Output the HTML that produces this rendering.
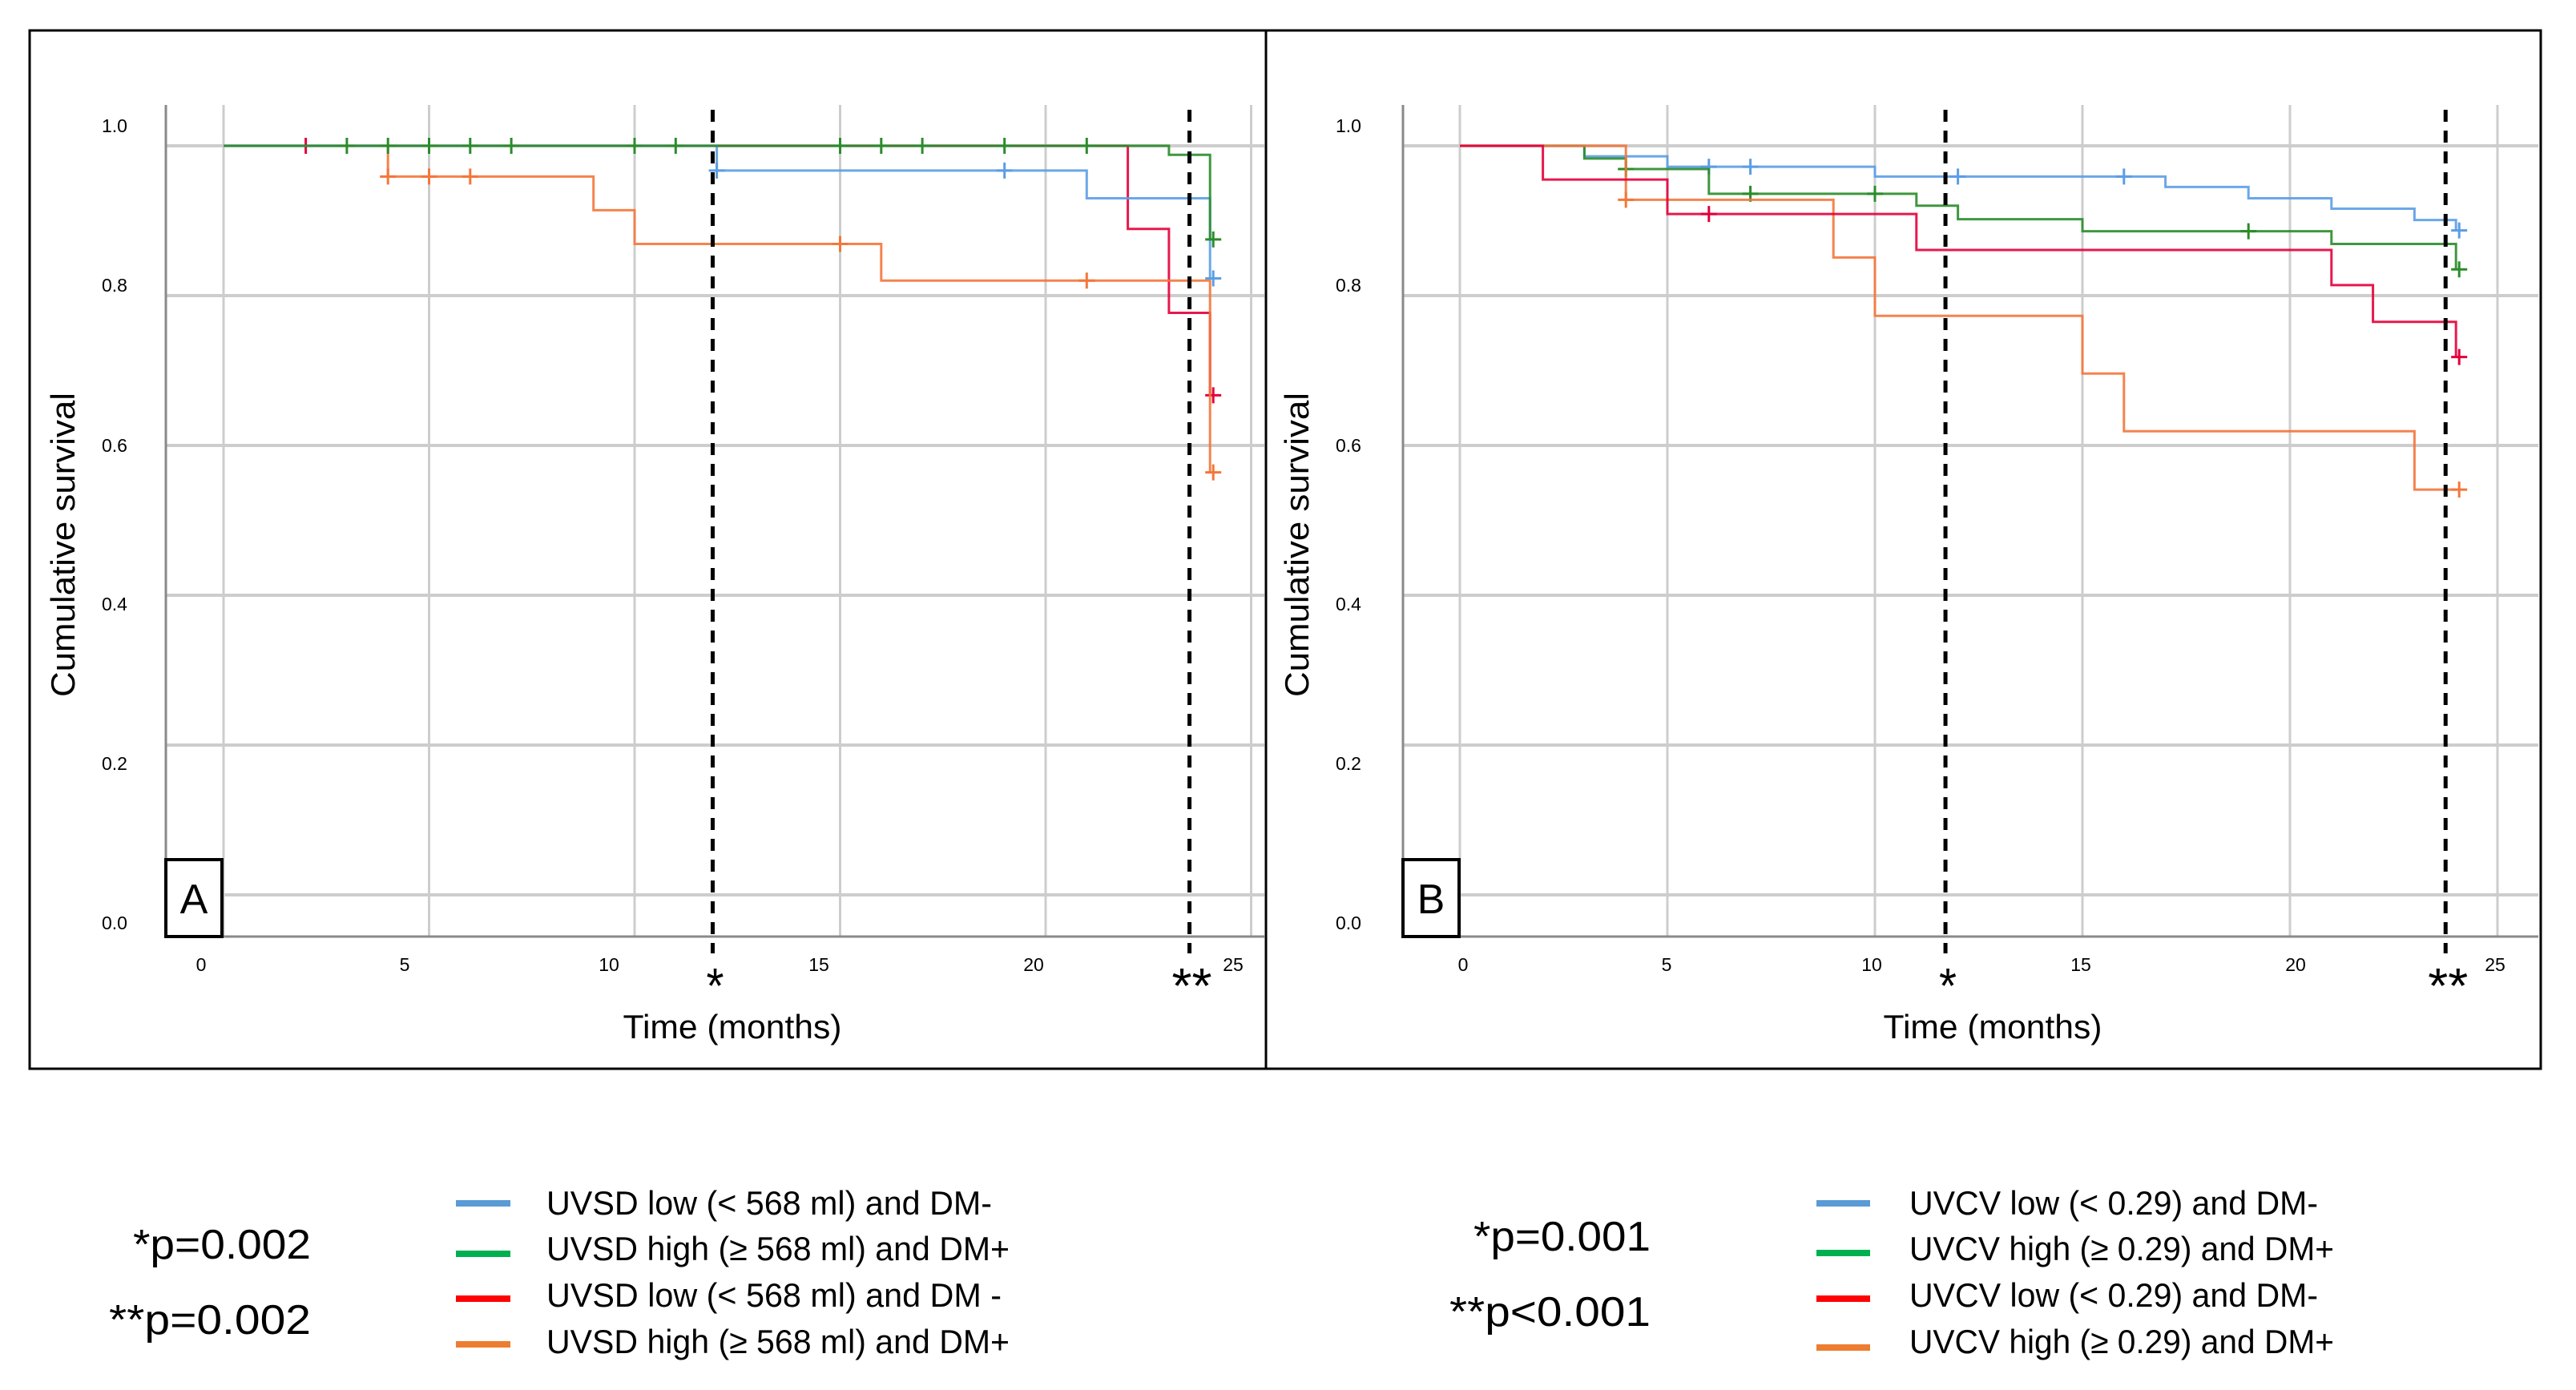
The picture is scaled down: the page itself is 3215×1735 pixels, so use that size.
<!DOCTYPE html>
<html><head><meta charset="utf-8"><style>
html,body{margin:0;padding:0;background:#fff;}
svg{display:block;font-family:"Liberation Sans",sans-serif;}
</style></head><body>
<svg id="fig" width="3215" height="1735" viewBox="0 0 3215 1735" xmlns="http://www.w3.org/2000/svg">
<rect x="0" y="0" width="3215" height="1735" fill="#fff"/>
<g id="panelA"></g>
<g id="panelB"></g>
<g id="legendA">
  <text x="166" y="1571" font-size="52" textLength="222" lengthAdjust="spacingAndGlyphs">*p=0.002</text>
  <text x="136" y="1665" font-size="52" textLength="252" lengthAdjust="spacingAndGlyphs">**p=0.002</text>
  <rect x="569" y="1498" width="68" height="8" fill="#5b9bd5"/>
  <rect x="569" y="1561" width="68" height="8" fill="#00b050"/>
  <rect x="569" y="1617" width="68" height="8" fill="#ff0000"/>
  <rect x="569" y="1674" width="68" height="8" fill="#ed7d31"/>
  <text x="682" y="1516" font-size="42" textLength="556" lengthAdjust="spacingAndGlyphs">UVSD low (&lt; 568 ml) and DM-</text>
  <text x="682" y="1573" font-size="42" textLength="578" lengthAdjust="spacingAndGlyphs">UVSD high (≥ 568 ml) and DM+</text>
  <text x="682" y="1631" font-size="42" textLength="568" lengthAdjust="spacingAndGlyphs">UVSD low (&lt; 568 ml) and DM -</text>
  <text x="682" y="1689" font-size="42" textLength="578" lengthAdjust="spacingAndGlyphs">UVSD high (≥ 568 ml) and DM+</text>
</g>
<g id="legendB">
  <text x="1839" y="1561" font-size="52" textLength="221" lengthAdjust="spacingAndGlyphs">*p=0.001</text>
  <text x="1809" y="1655" font-size="52" textLength="251" lengthAdjust="spacingAndGlyphs">**p&lt;0.001</text>
  <rect x="2267" y="1498" width="67" height="8" fill="#5b9bd5"/>
  <rect x="2267" y="1560" width="67" height="8" fill="#00b050"/>
  <rect x="2267" y="1617" width="67" height="8" fill="#ff0000"/>
  <rect x="2267" y="1678" width="67" height="8" fill="#ed7d31"/>
  <text x="2383" y="1516" font-size="42" textLength="510" lengthAdjust="spacingAndGlyphs">UVCV low (&lt; 0.29) and DM-</text>
  <text x="2383" y="1573" font-size="42" textLength="530" lengthAdjust="spacingAndGlyphs">UVCV high (≥ 0.29) and DM+</text>
  <text x="2383" y="1631" font-size="42" textLength="510" lengthAdjust="spacingAndGlyphs">UVCV low (&lt; 0.29) and DM-</text>
  <text x="2383" y="1689" font-size="42" textLength="530" lengthAdjust="spacingAndGlyphs">UVCV high (≥ 0.29) and DM+</text>
</g>
</svg>
<script>
// ---- data: tick labels ----
const yTickValues = [0.0, 0.2, 0.4, 0.6, 0.8, 1.0];
const yTickLabels = ["0.0", "0.2", "0.4", "0.6", "0.8", "1.0"];
const xTickValues = [0, 5, 10, 15, 20, 25];
const xTickLabels = ["0", "5", "10", "15", "20", "25"];
const maxTime = 24;
// ---- panel A series ----
const blueA_times = [12, 21, 24];
const blueA_surv = [0.967, 0.930, 0.823];
const blueA_cens = [12, 19, 24];
const greenA_times = [23, 24];
const greenA_surv = [0.988, 0.875];
const greenA_cens = [3, 4, 5, 6, 7, 10, 11, 15, 16, 17, 19, 21, 24];
const redA_times = [22, 23, 24];
const redA_surv = [0.889, 0.777, 0.667];
const redA_cens = [2, 24];
const orangeA_times = [4, 9, 10, 16, 24];
const orangeA_surv = [0.959, 0.914, 0.869, 0.820, 0.564];
const orangeA_cens = [4, 5, 6, 15, 21, 24];
const dashA = [11.9, 23.5];
// ---- panel B series ----
const blueB_times = [3, 5, 10, 17, 19, 21, 23, 24];
const blueB_surv = [0.986, 0.972, 0.959, 0.945, 0.930, 0.916, 0.901, 0.887];
const blueB_cens = [6, 7, 12, 16, 24];
const greenB_times = [3, 4, 6, 11, 12, 15, 21, 24];
const greenB_surv = [0.983, 0.969, 0.936, 0.920, 0.902, 0.886, 0.869, 0.835];
const greenB_cens = [4, 7, 10, 19, 24];
const redB_times = [2, 5, 11, 21, 22, 24];
const redB_surv = [0.955, 0.909, 0.861, 0.814, 0.765, 0.718];
const redB_cens = [6, 24];
const orangeB_times = [4, 9, 10, 15, 16, 23];
const orangeB_surv = [0.928, 0.851, 0.773, 0.696, 0.619, 0.541];
const orangeB_cens = [4, 24];
const dashB = [11.7, 23.75];

const NS = "http://www.w3.org/2000/svg";
function mk(tag, attrs, parent) {
  const e = document.createElementNS(NS, tag);
  for (const k in attrs) e.setAttribute(k, attrs[k]);
  parent.appendChild(e);
  return e;
}
function yScale(s) { return 182 + (1 - s) * 935; }
function survAt(times, surv, t) {
  let s = 1;
  for (let i = 0; i < times.length; i++) if (times[i] <= t) s = surv[i];
  return s;
}

function drawPanel(g, cfg) {
  const xs = cfg.xScale;
  const frame = mk("rect", {x: cfg.frameX, y: 38, width: cfg.frameW, height: 1296, fill: "none", stroke: "#000", "stroke-width": 3}, g);
  
  
  yTickValues.forEach(v => {
    const l = mk("line", {x1: cfg.axisX, x2: cfg.gridRight, y1: yScale(v), y2: yScale(v), stroke: "#cdcdcd", "stroke-width": 4}, g);
    
    
  });
  xTickValues.forEach(v => {
    const l = mk("line", {x1: xs(v), x2: xs(v), y1: 131, y2: 1169, stroke: "#cdcdcd", "stroke-width": 3}, g);
    
    
  });
  const ya = mk("line", {x1: cfg.axisX, x2: cfg.axisX, y1: 131, y2: 1170, stroke: "#8a8a8a", "stroke-width": 3}, g);
  
  
  const xa = mk("line", {x1: cfg.axisX, x2: cfg.gridRight, y1: 1169, y2: 1169, stroke: "#8a8a8a", "stroke-width": 3}, g);
  
  
  const yLabelY = [1152, 953, 754, 556, 356, 157];
  yTickLabels.forEach((lab, i) => {
    const t = mk("text", {x: cfg.yLabX, y: yLabelY[i] + 8, "font-size": 23, "text-anchor": "middle", fill: "#000"}, g);
    t.textContent = lab;
    
    
  });
  xTickLabels.forEach((lab, i) => {
    const t = mk("text", {x: cfg.xLabX[i], y: 1212, "font-size": 23, "text-anchor": "middle", fill: "#000"}, g);
    t.textContent = lab;
    
    
  });
  const yt = mk("text", {x: 0, y: 0, "font-size": 42, "text-anchor": "middle", transform: `translate(${cfg.yTitleX},680) rotate(-90)`, textLength: 380, lengthAdjust: "spacingAndGlyphs"}, g);
  yt.textContent = "Cumulative survival";
  
  
  const xt = mk("text", {x: cfg.xTitleX, y: 1296, "font-size": 42, "text-anchor": "middle", textLength: 273, lengthAdjust: "spacingAndGlyphs"}, g);
  xt.textContent = "Time (months)";
  
  
  cfg.series.forEach(sr => {
    let d = `M${xs(0)},${yScale(1)}`;
    sr.times.forEach((t, i) => { d += ` H${xs(t)} V${yScale(sr.surv[i])}`; });
    d += ` H${xs(maxTime)}`;
    const p = mk("path", {d: d, fill: "none", stroke: sr.color, "stroke-width": 3, "stroke-opacity": 0.9}, g);
    
    
    sr.cens.forEach(c => {
      const cx = xs(c) + (c === maxTime ? 4 : 0);
      const cy = yScale(survAt(sr.times, sr.surv, c));
      const m = mk("path", {d: `M${cx - 10},${cy} H${cx + 10} M${cx},${cy - 10} V${cy + 10}`, stroke: sr.color, "stroke-width": 3, fill: "none"}, g);
      
      
    });
  });
  cfg.dashes.forEach((dv, i) => {
    const l = mk("line", {x1: xs(dv), x2: xs(dv), y1: 137, y2: 1190, stroke: "#000", "stroke-width": 5, "stroke-dasharray": "15 11"}, g);
    
    
    const t = mk("text", {x: xs(dv) + 3, y: 1252, "font-size": 62, "text-anchor": "middle", textLength: i === 0 ? 22 : 50, lengthAdjust: "spacingAndGlyphs"}, g);
    t.textContent = i === 0 ? "*" : "**";
    
    
  });
  const bx = mk("rect", {x: cfg.axisX, y: 1073, width: 70, height: 96, fill: "#fff", stroke: "#000", "stroke-width": 4}, g);
  
  
  const lt = mk("text", {x: cfg.axisX + 35, y: 1140, "font-size": 52, "text-anchor": "middle"}, g);
  lt.textContent = cfg.letter;
  
  
}

drawPanel(document.getElementById("panelA"), {
  xScale: m => 279 + m * 51.3,
  frameX: 37, frameW: 1543, axisX: 207, gridRight: 1578,
  yLabX: 143, xLabX: [251, 505, 760, 1022, 1290, 1539],
  yTitleX: 93, xTitleX: 914, letter: "A", dashes: dashA,
  series: [
    {name: "red", color: "#e3003a", times: redA_times, surv: redA_surv, cens: redA_cens},
    {name: "orange", color: "#f4763a", times: orangeA_times, surv: orangeA_surv, cens: orangeA_cens},
    {name: "blue", color: "#5b9de6", times: blueA_times, surv: blueA_surv, cens: blueA_cens},
    {name: "green", color: "#2a8c2a", times: greenA_times, surv: greenA_surv, cens: greenA_cens}
  ]
});
drawPanel(document.getElementById("panelB"), {
  xScale: m => 1822 + m * 51.8,
  frameX: 1580, frameW: 1591, axisX: 1751, gridRight: 3168,
  yLabX: 1683, xLabX: [1826, 2080, 2336, 2597, 2865, 3114],
  yTitleX: 1633, xTitleX: 2487, letter: "B", dashes: dashB,
  series: [
    {name: "blue", color: "#5b9de6", times: blueB_times, surv: blueB_surv, cens: blueB_cens},
    {name: "green", color: "#2a8c2a", times: greenB_times, surv: greenB_surv, cens: greenB_cens},
    {name: "orange", color: "#f4763a", times: orangeB_times, surv: orangeB_surv, cens: orangeB_cens},
    {name: "red", color: "#e3003a", times: redB_times, surv: redB_surv, cens: redB_cens}
  ]
});
</script>
</body></html>
